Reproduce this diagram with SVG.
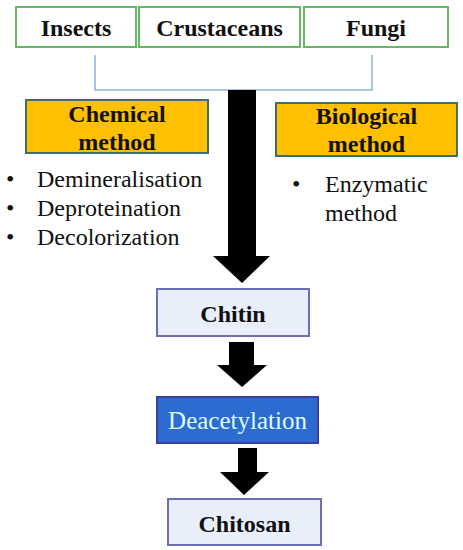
<svg xmlns="http://www.w3.org/2000/svg" width="463" height="550" viewBox="0 0 463 550">
<style>
.src{fill:#fff;stroke:#62bb62;stroke-width:2}
.meth{fill:#ffc000;stroke:#3f6f68;stroke-width:2}
.pale{fill:#e8effb;stroke:#6b6fb5;stroke-width:2}
.bt{font-family:"Liberation Serif",serif;font-weight:bold;font-size:24px;fill:#111;text-anchor:middle}
.rt{font-family:"Liberation Serif",serif;font-size:24px;fill:#111}
.arr{fill:#000}
</style>
<rect width="463" height="550" fill="#fff"/>
<g id="connectors">
<polyline points="95,55 95,90 372,90 372,55" fill="none" stroke="#8fb1dd" stroke-width="1.5"/>
<polygon class="arr" points="228,90 256,90 256,256 270,256 242,283 213,256 228,256"/>
<polygon class="arr" points="229,342 254,342 254,365 267,365 242,387 217,365 229,365"/>
<polygon class="arr" points="238,448 257,448 257,472 269,472 244,495 220,472 238,472"/>
</g>
<g id="insects"><rect class="src" x="16" y="7" width="120" height="40"/><text class="bt" x="76" y="36">Insects</text></g>
<g id="crustaceans"><rect class="src" x="139" y="7" width="161" height="40"/><text class="bt" x="219.5" y="36">Crustaceans</text></g>
<g id="fungi"><rect class="src" x="304" y="7" width="144" height="40"/><text class="bt" x="376" y="36">Fungi</text></g>
<g id="chemical"><rect class="meth" x="26" y="100" width="182" height="53"/><text class="bt" x="117" y="122">Chemical</text><text class="bt" x="117" y="150">method</text></g>
<g id="biological"><rect class="meth" x="276" y="103" width="181" height="53"/><text class="bt" x="366.5" y="124">Biological</text><text class="bt" x="366.5" y="152">method</text></g>
<g id="chemical-list" class="rt">
<text x="6" y="187">•</text><text x="37" y="187">Demineralisation</text>
<text x="6" y="216">•</text><text x="37" y="216">Deproteination</text>
<text x="6" y="245">•</text><text x="37" y="245">Decolorization</text>
</g>
<g id="biological-list" class="rt">
<text x="292" y="192">•</text><text x="325" y="192">Enzymatic</text>
<text x="325" y="221">method</text>
</g>
<g id="chitin"><rect class="pale" x="157" y="289" width="152" height="47"/><text class="bt" x="233" y="322">Chitin</text></g>
<g id="deacetylation"><rect x="157" y="397" width="161" height="46" fill="#2c6bd0" stroke="#3a3f9e" stroke-width="2"/><text x="237.5" y="429" font-family="Liberation Serif,serif" font-size="25" fill="#dffcff" text-anchor="middle">Deacetylation</text></g>
<g id="chitosan"><rect class="pale" x="168" y="499" width="153" height="46"/><text class="bt" x="244.5" y="532">Chitosan</text></g>
</svg>
